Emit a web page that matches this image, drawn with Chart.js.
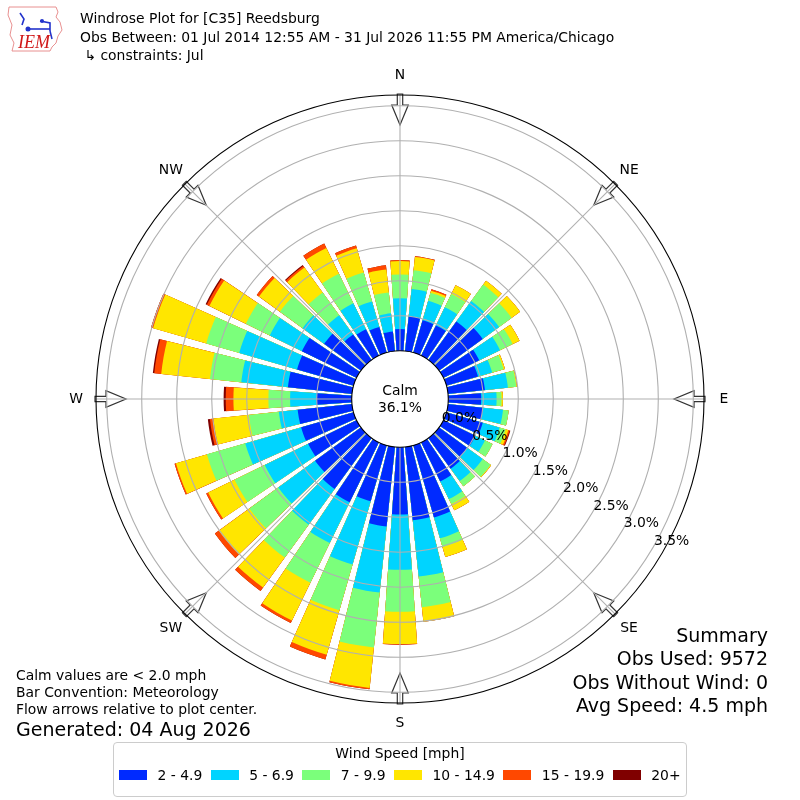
<!DOCTYPE html>
<html>
<head>
<meta charset="utf-8">
<script src="https://cdn.jsdelivr.net/npm/chart.js@4.4.1/dist/chart.umd.min.js"></script>
<style>
  html, body { margin: 0; padding: 0; background: #fff; }
  #wrap { position: relative; width: 800px; height: 800px; overflow: hidden;
          font-family: "DejaVu Sans", sans-serif; color: #000; }
  #rose { position: absolute; left: 0; top: 0; }
  .txt { position: absolute; white-space: pre; }
  #title { left: 80px; top: 9px; font-size: 13.9px; line-height: 18.5px; }
  #notes { left: 16px; top: 667px; font-size: 13.9px; line-height: 17px; }
  #generated { left: 16px; top: 718px; font-size: 19px; }
  #summary { right: 32px; top: 624px; font-size: 19px; line-height: 23.4px; text-align: right; }
  #legend { position: absolute; left: 113px; top: 742px; width: 572px; height: 53px;
            border: 1px solid #cccccc; border-radius: 4px; font-size: 13.9px; }
  #legend .ltitle { position: absolute; left: 0; right: 0; top: 2px; text-align: center; }
  #legend .items { position: absolute; left: 5px; top: 24px; display: flex; align-items: center;
                   gap: 8.4px; white-space: nowrap; }
  #legend .item { display: flex; align-items: center; flex-shrink: 0; }
  #legend .patch { width: 28px; height: 10px; margin-right: 10.5px; flex-shrink: 0; }
</style>
</head>
<body>
<div id="wrap">
  <canvas id="rose" width="800" height="800"></canvas>

  <svg style="position:absolute;left:6px;top:5px" width="60" height="48" viewBox="0 0 60 48">
    <path d="M3 2 L50 2 L52 7 L50 12 L54 17 L56 25 L52 31 L50 38 L46 42 L44 46 L6 46 L8 38 L4 30 L6 20 L2 10 Z"
          fill="none" stroke="#e89090" stroke-width="1"/>
    <g stroke="#2233cc" stroke-width="1.6" fill="none">
      <path d="M14 8 L18 14 L16 20"/>
      <path d="M20 24 L44 24"/>
      <path d="M34 16 L44 18 L44 26"/>
      <path d="M44 26 L46 34"/>
    </g>
    <circle cx="22" cy="24" r="2.5" fill="#2233cc"/>
    <circle cx="36" cy="16" r="2" fill="#2233cc"/>
    <text x="12" y="43" font-family="Liberation Serif, serif" font-style="italic" font-size="18" fill="#d01818">IEM</text>
  </svg>

  <div class="txt" id="title">Windrose Plot for [C35] Reedsburg
Obs Between: 01 Jul 2014 12:55 AM - 31 Jul 2026 11:55 PM America/Chicago
 ↳ constraints: Jul</div>

  <div class="txt" id="notes">Calm values are &lt; 2.0 mph
Bar Convention: Meteorology
Flow arrows relative to plot center.</div>
  <div class="txt" id="generated">Generated: 04 Aug 2026</div>

  <div class="txt" id="summary">Summary
Obs Used: 9572
Obs Without Wind: 0
Avg Speed: 4.5 mph</div>

  <div id="legend">
    <div class="ltitle">Wind Speed [mph]</div>
    <div class="items" id="legendItems"></div>
  </div>
</div>

<script>
// Direction bins (degrees, meteorological convention)
const directions = [0, 10, 20, 30, 40, 50, 60, 70, 80, 90, 100, 110, 120, 130, 140, 150, 160, 170,
                    180, 190, 200, 210, 220, 230, 240, 250, 260, 270, 280, 290, 300, 310, 320, 330, 340, 350];
const speedBins = ["2 - 4.9", "5 - 6.9", "7 - 9.9", "10 - 14.9", "15 - 19.9", "20+"];

// Frequency (%) per direction for each speed bin
const spd2to5 = [0.31, 0.50, 0.48, 0.48, 0.68, 0.77, 0.57, 0.47, 0.53, 0.47, 0.50, 0.54, 0.51, 0.50, 0.54, 0.62, 1.07, 1.05,
                 0.96, 1.14, 0.83, 0.95, 0.90, 0.81, 0.77, 0.78, 0.78, 0.50, 0.92, 0.84, 0.87, 0.65, 0.45, 0.42, 0.38, 0.28];
const spd5to7 = [0.44, 0.39, 0.29, 0.29, 0.36, 0.29, 0.33, 0.21, 0.33, 0.22, 0.29, 0.25, 0.15, 0.27, 0.22, 0.28, 0.31, 0.81,
                 0.79, 0.95, 0.94, 0.65, 0.63, 0.65, 0.69, 0.83, 0.27, 0.38, 0.67, 0.86, 0.51, 0.38, 0.34, 0.41, 0.38, 0.26];
const spd7to10 = [0.34, 0.27, 0.12, 0.21, 0.29, 0.22, 0.20, 0.17, 0.12, 0.07, 0.08, 0.09, 0.12, 0.14, 0.09, 0.08, 0.13, 0.44,
                  0.60, 0.79, 0.68, 0.63, 0.58, 0.51, 0.48, 0.57, 0.43, 0.31, 0.45, 0.49, 0.38, 0.40, 0.40, 0.47, 0.43, 0.30];
const spd10to15 = [0.19, 0.19, 0.03, 0.14, 0.07, 0.15, 0.11, 0.02, 0.01, 0.02, 0.00, 0.04, 0.00, 0.01, 0.00, 0.10, 0.15, 0.21,
                   0.46, 0.58, 0.66, 0.60, 0.53, 0.54, 0.42, 0.46, 0.51, 0.50, 0.70, 0.79, 0.58, 0.37, 0.44, 0.41, 0.36, 0.33];
const spd15to20 = [0.015, 0.01, 0.02, 0, 0, 0, 0, 0, 0, 0, 0, 0.02, 0, 0, 0, 0, 0, 0,
                   0.01, 0.02, 0.07, 0.04, 0.06, 0.07, 0.03, 0.02, 0.05, 0.11, 0.10, 0.03, 0.04, 0.04, 0.03, 0.07, 0.04, 0.06];
const spd20up = [0, 0, 0, 0, 0, 0, 0, 0, 0, 0, 0, 0.01, 0, 0, 0, 0, 0, 0,
                 0, 0, 0, 0, 0, 0, 0, 0, 0.03, 0.03, 0.02, 0, 0.02, 0, 0.015, 0, 0, 0];
const calmPct = 36.1;

// Radial axis tick values (%)
const rTicks = [0.0, 0.5, 1.0, 1.5, 2.0, 2.5, 3.0, 3.5];
const compassLabels = ["N", "NE", "E", "SE", "S", "SW", "W", "NW"];

const binColors = ["#002aff", "#00d4ff", "#7bff7b", "#ffe600", "#ff4800", "#800000"];
const barDeg = 8;
const gapDeg = 2;
const rMin = -0.69;   // leaves room for the calm circle
const rMax = 3.653;
const labelFont = '13.9px "DejaVu Sans"';

// Stack the bins: each dataset holds the running total, drawn largest first
const speedSeries = [spd2to5, spd5to7, spd7to10, spd10to15, spd15to20, spd20up];
let running = directions.map(() => 0);
const datasets = speedSeries.map((series, k) => {
    running = running.map((v, i) => v + series[i]);
    const cum = running.slice();
    return {
        label: speedBins[k],
        data: cum.flatMap(v => [v, 0]),
        backgroundColor: ctx => (ctx.dataIndex % 2 ? "rgba(0,0,0,0)" : binColors[k]),
        angle: ctx => (ctx.dataIndex % 2 ? gapDeg : barDeg),
        borderWidth: 0,
    };
});

const toCanvasAngle = deg => (deg - 90) * Math.PI / 180;

const roseDecor = {
    id: "roseDecor",
    afterDatasetsDraw(chart) {
        const scale = chart.scales.r;
        const ctx = chart.ctx;
        const cx = scale.xCenter, cy = scale.yCenter;
        const r0 = scale.getDistanceFromCenterForValue(0);
        const rOut = scale.drawingArea;
        ctx.save();
        // calm circle
        ctx.fillStyle = "#ffffff";
        ctx.beginPath();
        ctx.arc(cx, cy, r0, 0, Math.PI * 2);
        ctx.fill();

        // flow arrows on the rim
        compassLabels.forEach((lab, i) => {
            const a = toCanvasAngle(i * 45);
            const ux = Math.cos(a), uy = Math.sin(a);
            const vx = -uy, vy = ux;
            const pts = [[rOut + 1, -2.7], [rOut - 10, -2.7], [rOut - 10, -8.3], [rOut - 30, 0],
                         [rOut - 10, 8.3], [rOut - 10, 2.7], [rOut + 1, 2.7]];
            ctx.beginPath();
            pts.forEach(([rr, w], j) => {
                const x = cx + rr * ux + w * vx, y = cy + rr * uy + w * vy;
                if (j === 0) ctx.moveTo(x, y); else ctx.lineTo(x, y);
            });
            ctx.closePath();
            ctx.fillStyle = "#ffffff";
            ctx.fill();
            ctx.strokeStyle = "#333333";
            ctx.lineWidth = 1.2;
            ctx.stroke();
        });

        // spokes every 45 degrees
        ctx.strokeStyle = "#b0b0b0";
        ctx.lineWidth = 1.1;
        for (let i = 0; i < 8; i++) {
            const a = toCanvasAngle(i * 45);
            ctx.beginPath();
            ctx.moveTo(cx + r0 * Math.cos(a), cy + r0 * Math.sin(a));
            ctx.lineTo(cx + rOut * Math.cos(a), cy + rOut * Math.sin(a));
            ctx.stroke();
        }
        ctx.restore();
    },
    afterDraw(chart) {
        const scale = chart.scales.r;
        const ctx = chart.ctx;
        const cx = scale.xCenter, cy = scale.yCenter;
        ctx.save();
        ctx.fillStyle = "#000";
        ctx.font = labelFont;

        // compass labels
        ctx.textAlign = "center";
        ctx.textBaseline = "middle";
        compassLabels.forEach((lab, i) => {
            const a = toCanvasAngle(i * 45);
            ctx.fillText(lab, cx + 324 * Math.cos(a), cy + 324 * Math.sin(a));
        });

        // calm text
        ctx.fillText("Calm", cx, cy - 8);
        ctx.fillText(calmPct.toFixed(1) + "%", cx, cy + 9);

        // radial tick labels along 120 degrees
        ctx.textAlign = "left";
        ctx.textBaseline = "alphabetic";
        const a = toCanvasAngle(120);
        rTicks.forEach(v => {
            const rr = scale.getDistanceFromCenterForValue(v);
            ctx.fillText(v.toFixed(1) + "%", cx + rr * Math.cos(a), cy + rr * Math.sin(a) - 1);
        });
        ctx.restore();
    }
};

new Chart(document.getElementById("rose"), {
    type: "polarArea",
    data: {
        labels: directions.flatMap(d => [String(d), ""]),
        datasets: datasets,
    },
    options: {
        responsive: false,
        animation: false,
        events: [],
        layout: { padding: { left: 96, right: 96, top: 95, bottom: 97 } },
        plugins: { legend: { display: false }, tooltip: { enabled: false } },
        scales: {
            r: {
                min: rMin,
                max: rMax,
                startAngle: -barDeg / 2,
                ticks: { display: false },
                afterBuildTicks: axis => {
                    axis.ticks = [axis.min, ...rTicks, axis.max].map(v => ({ value: v }));
                },
                grid: {
                    circular: true,
                    z: 1,
                    color: ctx => {
                        if (!ctx.tick) return "#b0b0b0";
                        const v = ctx.tick.value;
                        if (v === rMin) return "rgba(0,0,0,0)";
                        return (v === 0 || v === rMax) ? "#000000" : "#b0b0b0";
                    },
                    lineWidth: 1.1,
                },
                angleLines: { display: false },
                pointLabels: { display: false },
            },
        },
    },
    plugins: [roseDecor],
});

// legend
const legendItems = document.getElementById("legendItems");
speedBins.forEach((lab, k) => {
    const item = document.createElement("div");
    item.className = "item";
    item.innerHTML = '<div class="patch" style="background:' + binColors[k] + '"></div><span>' + lab + "</span>";
    legendItems.appendChild(item);
});
</script>
</body>
</html>
